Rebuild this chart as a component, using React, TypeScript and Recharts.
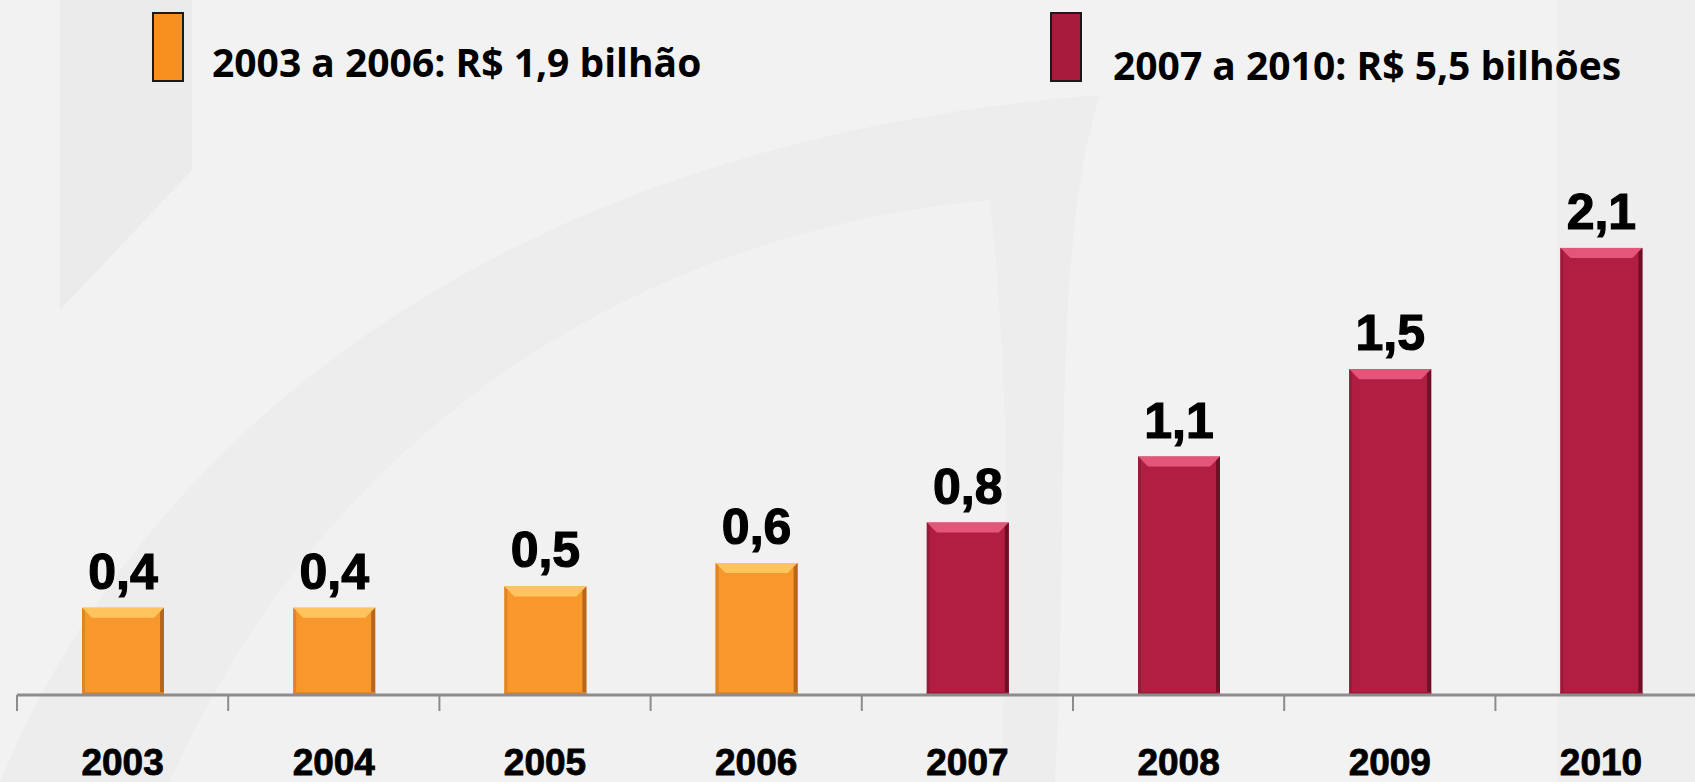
import React from 'react';
import { BarChart, Bar, XAxis, YAxis, Cell, LabelList } from 'recharts';

const years = ['2003', '2004', '2005', '2006', '2007', '2008', '2009', '2010'];
const amounts = [0.41, 0.41, 0.51, 0.62, 0.81, 1.12, 1.53, 2.1];
const periodOf = ['a', 'a', 'a', 'a', 'b', 'b', 'b', 'b'];
const legendLabels = ['2003 a 2006: R$ 1,9 bilhão', '2007 a 2010: R$ 5,5 bilhões'];

const palette: Record<string, { base: string; light: string; dark: string; side: string; legend: string }> = {
  a: { base: '#F8982C', light: '#FFC45E', dark: '#B8661C', side: '#E08424', legend: '#F7901E' },
  b: { base: '#B21E42', light: '#E4557A', dark: '#6E0F26', side: '#9A1A39', legend: '#A71B3C' },
};

const data = years.map((year, i) => ({ year, value: amounts[i], period: periodOf[i] }));

const fmt = (v: number) => v.toFixed(1).replace('.', ',');

const BevelBar = (props: any) => {
  const { x, y, width: w, height: h, index } = props;
  if (!h || h <= 0) return null;
  const c = palette[periodOf[index]];
  const b = Math.min(10, h / 2);
  return (
    <g>
      <rect x={x} y={y} width={w} height={h} fill={c.base} />
      <polygon points={`${x},${y} ${x + w},${y} ${x + w - b},${y + b} ${x + b},${y + b}`} fill={c.light} />
      <polygon points={`${x + w},${y} ${x + w},${y + h} ${x + w - 4},${y + h} ${x + w - 4},${y + 4}`} fill={c.dark} />
      <polygon points={`${x},${y} ${x + 3},${y + 3} ${x + 3},${y + h} ${x},${y + h}`} fill={c.side} />
      <rect x={x} y={y + h - 3} width={w} height={3} fill={c.side} />
    </g>
  );
};

const ValueLabel = (props: any) => {
  const { x, y, width, value } = props;
  return (
    <text
      x={x + width / 2}
      y={y - 19}
      textAnchor="middle"
      fontFamily="'Liberation Sans', Arial, sans-serif"
      fontWeight="bold"
      fontSize={50}
      fill="#000"
      stroke="#000"
      strokeWidth={1.2}
    >
      {fmt(value)}
    </text>
  );
};

const HALF_BAND = 105.6;

const YearTick = (props: any) => {
  const { x, y, payload } = props;
  return (
    <g>
      <line x1={x - HALF_BAND} y1={y} x2={x - HALF_BAND} y2={y + 16} stroke="#8c8c8c" strokeWidth={2} />
      <text
        x={x}
        y={y + 80}
        textAnchor="middle"
        fontFamily="'Liberation Sans', Arial, sans-serif"
        fontWeight="bold"
        fontSize={37}
        fill="#000"
        stroke="#000"
        strokeWidth={0.8}
      >
        {payload.value}
      </text>
    </g>
  );
};

function Backdrop() {
  return (
    <svg width={1695} height={782} style={{ position: 'absolute', left: 0, top: 0 }}>
      <rect width={1695} height={782} fill="#F2F2F2" />
      <polygon points="60,0 192,0 192,170 60,310" fill="#EBEBEB" />
      <path d="M 0,782 C 150,420 520,140 1100,95 C 1050,250 1070,520 1055,782 Z" fill="#EDEDED" />
      <path d="M 170,782 C 330,420 650,230 990,200 C 1010,380 1010,600 1000,782 Z" fill="#F1F1F1" />
      <rect x={1558} y={0} width={137} height={782} fill="#EEEEEE" />
    </svg>
  );
}

function LegendBox() {
  const font = "'Open Sans', 'Noto Sans', sans-serif";
  return (
    <svg width={1695} height={120} style={{ position: 'absolute', left: 0, top: 0 }}>
      <rect x={153} y={13} width={30} height={68} fill={palette.a.legend} stroke="#1a1a1a" strokeWidth={2} />
      <text x={212} y={77} fontFamily={font} fontWeight="bold" fontSize={39} fill="#000">
        {legendLabels[0]}
      </text>
      <rect x={1051} y={13} width={30} height={68} fill={palette.b.legend} stroke="#1a1a1a" strokeWidth={2} />
      <text x={1113} y={80} fontFamily={font} fontWeight="bold" fontSize={39} fill="#000">
        {legendLabels[1]}
      </text>
    </svg>
  );
}

export default function App() {
  return (
    <div style={{ position: 'absolute', left: 0, top: 0, width: 1695, height: 782, overflow: 'hidden' }}>
      <Backdrop />
      <div style={{ position: 'absolute', left: 0, top: 0 }}>
        <BarChart width={1720} height={782} data={data} margin={{ top: 56.3, right: 13.4, left: 17, bottom: 0 }}>
          <YAxis hide domain={[0, 3]} />
          <XAxis
            dataKey="year"
            height={87}
            interval={0}
            tickLine={false}
            tickSize={0}
            tickMargin={0}
            axisLine={{ stroke: '#8c8c8c', strokeWidth: 3 }}
            tick={<YearTick />}
          />
          <Bar dataKey="value" barSize={82} shape={<BevelBar />} isAnimationActive={false}>
            {data.map((d, i) => (
              <Cell key={i} fill={palette[d.period].base} />
            ))}
            <LabelList dataKey="value" content={<ValueLabel />} />
          </Bar>
        </BarChart>
      </div>
      <LegendBox />
    </div>
  );
}
